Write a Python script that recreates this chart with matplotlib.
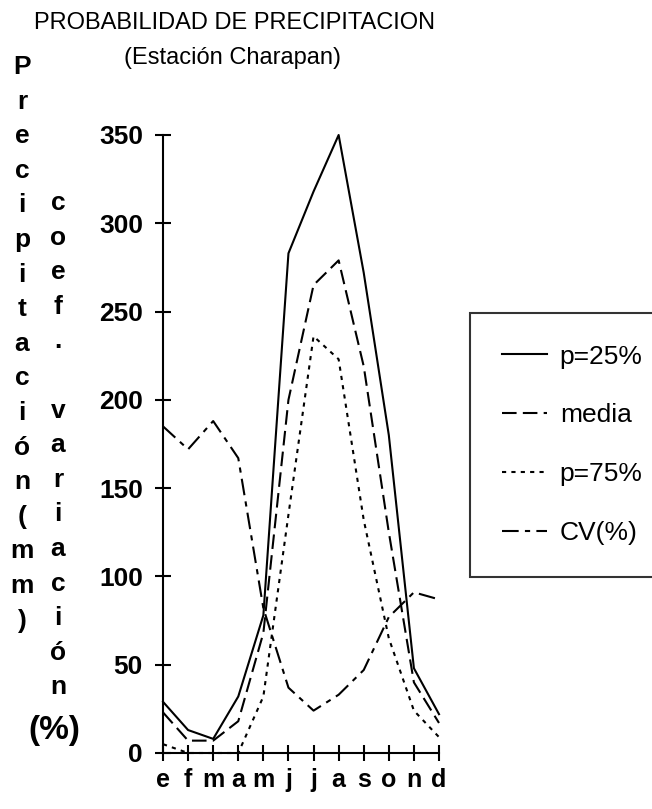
import matplotlib.pyplot as plt

plt.rcParams['font.family'] = ['Liberation Sans', 'DejaVu Sans']

# datos mensuales (mm y %)
meses = ['e', 'f', 'm', 'a', 'm', 'j', 'j', 'a', 's', 'o', 'n', 'd']
p25 = [29, 13, 8, 32, 78, 283, 318, 350, 272, 180, 48, 22]
media = [23, 7, 7, 18, 68, 200, 265, 279, 219, 125, 40, 17]
p75 = [5, 0, 0, 0, 32, 135, 236, 223, 132, 65, 24, 9]
cv = [185, 172, 188, 167, 82, 37, 24, 33, 47, 77, 91, 87]
yticks = [0, 50, 100, 150, 200, 250, 300, 350]

W, H = 652, 809
fig = plt.figure(figsize=(W / 100, H / 100), dpi=100)
ax = fig.add_axes([163 / W, 1 - 753 / H, (439 - 163) / W, (753 - 135) / H])

x = range(len(meses))
lw = 1.5
ax.plot(x, p25, color='black', lw=lw, ls='-', label='p=25%', clip_on=False)
ax.plot(x, media, color='black', lw=lw, ls=(0, (7, 3)), label='media', clip_on=False)
ax.plot(x, p75, color='black', lw=lw, ls=(0, (2, 2.5)), label='p=75%', clip_on=False)
ax.plot(x, cv, color='black', lw=lw, ls=(0, (8, 3, 2.5, 3)), label='CV(%)', clip_on=False)

ax.set_xlim(0, len(meses) - 1)
ax.set_ylim(0, 350)
ax.set_xticks(list(x))
ax.set_xticklabels(meses, fontsize=18, fontweight='bold')
ax.set_yticks(yticks)
ax.set_yticklabels([str(v) for v in yticks], fontsize=19, fontweight='bold')
ax.tick_params(axis='both', direction='inout', length=11, width=1.5)
ax.tick_params(axis='y', pad=9)
ax.tick_params(axis='x', pad=5)
for s in ['top', 'right']:
    ax.spines[s].set_visible(False)
for s in ['left', 'bottom']:
    ax.spines[s].set_linewidth(1.5)

fig.text(234 / W, 1 - 23 / H, 'PROBABILIDAD DE PRECIPITACION', ha='center', va='center', fontsize=17)
fig.text(233 / W, 1 - 58 / H, '(Estación Charapan)', ha='center', va='center', fontsize=17)

# etiquetas verticales, una letra por renglón
paso = 34.6
for i, ch in enumerate('Precipitación (mm)'.replace(' ', '')):
    fig.text(22 / W, 1 - (67 + i * paso) / H, ch, ha='center', va='center',
             fontsize=19, fontweight='bold')
for i, ch in enumerate('coef. variación'):
    if ch != ' ':
        fig.text(58 / W, 1 - (203 + i * paso) / H, ch, ha='center', va='center',
                 fontsize=19, fontweight='bold')
fig.text(54 / W, 1 - 730 / H, '(%)', ha='center', va='center', fontsize=24, fontweight='bold')

leg = fig.legend(ax.get_lines(), [l.get_label() for l in ax.get_lines()],
                 loc='upper left', bbox_to_anchor=(470 / W, 1 - 313 / H, 0.45, 0),
                 mode='expand', borderaxespad=0, fontsize=19, handlelength=1.7,
                 labelspacing=1.32, borderpad=1.2, handletextpad=0.5, fancybox=False)
leg.get_frame().set_edgecolor('black')
leg.get_frame().set_linewidth(1.5)

fig.savefig('out.png', dpi=100)
